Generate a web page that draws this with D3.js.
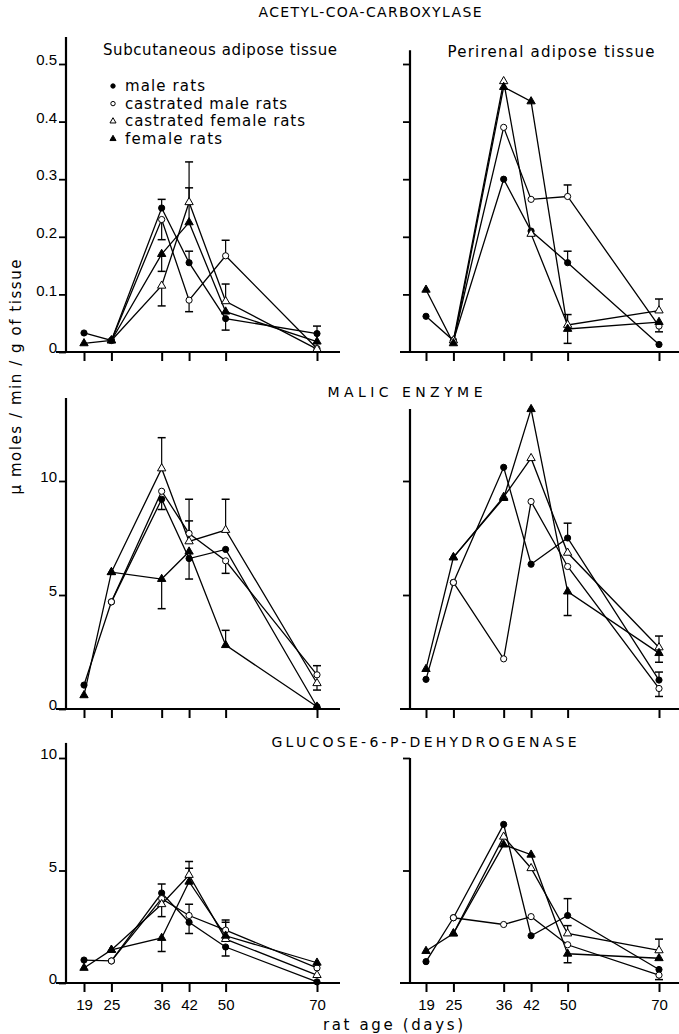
<!DOCTYPE html>
<html>
<head>
<meta charset="utf-8">
<script src="https://cdn.jsdelivr.net/npm/d3@7"></script>
<style>
  body { margin: 0; background: #fff; }
  svg { display: block; font-family: "DejaVu Sans", sans-serif; }
</style>
</head>
<body>
<svg id="chart" width="679" height="1034"></svg>
<script>
// rat age in days (x axis)
const ages = [19, 25, 36, 42, 50, 70];
const seriesLabels = ['male rats', 'castrated male rats', 'castrated female rats', 'female rats'];
const accTicks = [0, 0.1, 0.2, 0.3, 0.4, 0.5];
const enzTicks = [0, 5, 10];

// series order: male, castrated male, castrated female, female
// errors: signed length of the one-sided bar, 0 = none
const accSub = [
  [0.033, 0.02, 0.25, 0.155, 0.058, 0.032],
  [null, 0.02, 0.23, 0.09, 0.167, 0.006],
  [null, 0.02, 0.115, 0.26, 0.088, 0.005],
  [0.015, 0.02, 0.17, 0.225, 0.07, 0.018]
];
const accSubErr = [
  [0, 0, 0.015, 0.02, -0.02, 0.013],
  [0, 0, -0.035, -0.02, 0.027, 0],
  [0, 0, -0.035, 0.07, 0.03, 0],
  [0, 0, -0.03, 0.06, 0, 0]
];
const accPeri = [
  [0.062, 0.02, 0.30, 0.21, 0.155, 0.013],
  [null, 0.02, 0.39, 0.265, 0.27, 0.045],
  [null, 0.02, 0.47, 0.205, 0.047, 0.072],
  [0.108, 0.015, 0.46, 0.435, 0.04, 0.052]
];
const accPeriErr = [
  [0, 0, 0, 0, 0.02, 0],
  [0, 0, 0, 0, 0.02, -0.01],
  [0, 0, 0, 0, 0.018, 0.02],
  [0, 0, 0, 0, -0.025, 0]
];
const malicSub = [
  [1.05, 4.7, 9.2, 6.6, 7.0, 0.1],
  [null, 4.7, 9.55, 7.7, 6.5, 1.5],
  [null, 6.0, 10.55, 7.35, 7.85, 1.13],
  [0.6, 6.0, 5.7, 6.9, 2.8, 0.1]
];
const malicSubErr = [
  [0, 0, -0.45, -0.9, 0, 0],
  [0, 0, 0, 1.5, -0.55, 0.4],
  [0, 0, 1.35, 0.9, 1.35, -0.3],
  [0, 0, -1.3, 0, 0.65, 0]
];
const malicPeri = [
  [1.3, 5.55, 10.6, 6.35, 7.5, 1.27],
  [null, 5.55, 2.2, 9.1, 6.25, 0.9],
  [null, 6.65, 9.3, 11.0, 6.85, 2.7],
  [1.75, 6.65, 9.25, 13.15, 5.15, 2.45]
];
const malicPeriErr = [
  [0, 0, 0, 0, 0.65, 0.35],
  [0, 0, 0, 0, 0, -0.35],
  [0, 0, 0, 0, 0, 0.5],
  [0, 0, 0, 0, -1.05, -0.4]
];
const g6pdSub = [
  [1.02, 0.98, 4.0, 2.7, 1.6, 0.05],
  [null, 0.98, 3.75, 3.0, 2.35, 0.67],
  [null, 1.47, 3.5, 4.8, 1.95, 0.35],
  [0.67, 1.47, 2.0, 4.5, 2.1, 0.9]
];
const g6pdSubErr = [
  [0, 0, 0.4, -0.5, -0.4, 0],
  [0, 0, 0, 0.5, 0.45, 0],
  [0, 0, -0.55, 0.6, 0.75, 0],
  [0, 0, -0.6, 0.6, 0, 0]
];
const g6pdPeri = [
  [0.95, 2.9, 7.05, 2.1, 3.0, 0.6],
  [null, 2.9, 2.6, 2.95, 1.7, 0.35],
  [null, 2.2, 6.5, 5.1, 2.2, 1.45],
  [1.42, 2.2, 6.15, 5.7, 1.3, 1.1]
];
const g6pdPeriErr = [
  [0, 0, 0, 0, 0.75, 0],
  [0, 0, 0, 0, 0, -0.2],
  [0, 0, 0, 0, 0.35, 0.5],
  [0, 0, 0, 0, -0.4, 0]
];

const svg = d3.select('#chart');

const rows = [
  { y0: 352, y1: 64, max: 0.5, ticks: accTicks, fmt: (d) => (d === 0 ? '0' : d3.format('.1f')(d)),
    tops: [0.547, 0.524], title: 'ACETYL-COA-CARBOXYLASE', titleX: 370, titleY: 12, titleW: 223 },
  { y0: 709, y1: 481, max: 10, ticks: enzTicks, fmt: d3.format('d'),
    tops: [13.64, 13.16], title: 'MALIC  ENZYME', titleX: 405, titleY: 392, titleW: 155 },
  { y0: 983, y1: 758, max: 10, ticks: enzTicks, fmt: d3.format('d'),
    tops: [10.67, 10.0], title: 'GLUCOSE-6-P-DEHYDROGENASE', titleX: 424, titleY: 742, titleW: 305 }
];
const cols = [
  { x0: 84, x1: 317, axisX: 66, from: 56, to: 340 },
  { x0: 426, x1: 659, axisX: 410, from: 400, to: 679 }
];
const panelData = [
  [accSub, accSubErr], [accPeri, accPeriErr],
  [malicSub, malicSubErr], [malicPeri, malicPeriErr],
  [g6pdSub, g6pdSubErr], [g6pdPeri, g6pdPeriErr]
];

const triangle = d3.symbol().type(d3.symbolTriangle);

function drawMarker(sel, k, small) {
  if (k < 2) {
    sel.append('circle')
      .attr('r', small ? 2.2 : 3.1)
      .attr('fill', k === 0 ? '#000' : '#fff')
      .attr('stroke', '#000')
      .attr('stroke-width', 1);
  } else {
    sel.append('path')
      .attr('d', triangle.size(small ? 16 : 30)())
      .attr('fill', k === 3 ? '#000' : '#fff')
      .attr('stroke', '#000')
      .attr('stroke-width', 1);
  }
}

rows.forEach((row, r) => {
  svg.append('text')
    .attr('x', row.titleX)
    .attr('y', row.titleY)
    .attr('dy', '0.35em')
    .attr('text-anchor', 'middle')
    .attr('font-size', 14)
    .attr('textLength', row.titleW)
    .attr('lengthAdjust', 'spacing')
    .text(row.title);

  cols.forEach((col, c) => {
    const [values, errors] = panelData[r * 2 + c];
    const x = d3.scaleLinear().domain([19, 70]).range([col.x0, col.x1]);
    const y = d3.scaleLinear().domain([0, row.max]).range([row.y0, row.y1]);
    const g = svg.append('g');

    // y axis
    const yAxis = d3.axisLeft(y)
      .tickValues(c === 0 ? row.ticks : row.ticks.filter((d) => d > 0))
      .tickSize(7)
      .tickPadding(2)
      .tickFormat(c === 0 ? row.fmt : '');
    const ya = g.append('g')
      .attr('transform', `translate(${col.axisX},0)`)
      .call(yAxis);
    ya.select('.domain').remove();
    ya.selectAll('line').attr('stroke-width', 1.8);
    ya.selectAll('text')
      .attr('font-size', 15)
      .attr('dy', '0.05em');
    g.append('line')
      .attr('x1', col.axisX).attr('x2', col.axisX)
      .attr('y1', y(row.tops[c])).attr('y2', y(0))
      .attr('stroke', '#000').attr('stroke-width', 2.2);

    // x axis
    const xAxis = d3.axisBottom(x)
      .tickValues(ages)
      .tickSize(9)
      .tickPadding(7)
      .tickFormat(r === 2 ? d3.format('d') : '');
    const xa = g.append('g')
      .attr('transform', `translate(0,${y(0)})`)
      .call(xAxis);
    xa.select('.domain').remove();
    xa.selectAll('line').attr('stroke-width', 2);
    xa.selectAll('text').attr('font-size', 15);
    g.append('line')
      .attr('x1', col.from).attr('x2', col.to)
      .attr('y1', y(0)).attr('y2', y(0))
      .attr('stroke', '#000').attr('stroke-width', 2.2);

    // series lines
    const line = d3.line()
      .defined((d) => d != null)
      .x((d, i) => x(ages[i]))
      .y((d) => y(d));
    values.forEach((vals) => {
      g.append('path')
        .attr('d', line(vals))
        .attr('fill', 'none')
        .attr('stroke', '#000')
        .attr('stroke-width', 1.3);
    });

    // error bars
    values.forEach((vals, k) => {
      vals.forEach((v, i) => {
        const e = errors[k][i];
        if (v == null || !e) return;
        const px = x(ages[i]);
        g.append('line')
          .attr('x1', px).attr('x2', px)
          .attr('y1', y(v)).attr('y2', y(v + e))
          .attr('stroke', '#000').attr('stroke-width', 1.2);
        g.append('line')
          .attr('x1', px - 4).attr('x2', px + 4)
          .attr('y1', y(v + e)).attr('y2', y(v + e))
          .attr('stroke', '#000').attr('stroke-width', 1.5);
      });
    });

    // markers
    values.forEach((vals, k) => {
      vals.forEach((v, i) => {
        if (v == null) return;
        const m = g.append('g')
          .attr('transform', `translate(${x(ages[i])},${y(v)})`);
        drawMarker(m, k, false);
      });
    });
  });
});

// panel subtitles
svg.append('text')
  .attr('x', 220).attr('y', 50).attr('dy', '0.35em')
  .attr('text-anchor', 'middle').attr('font-size', 15)
  .attr('textLength', 234).attr('lengthAdjust', 'spacing')
  .text('Subcutaneous adipose tissue');
svg.append('text')
  .attr('x', 551).attr('y', 52).attr('dy', '0.35em')
  .attr('text-anchor', 'middle').attr('font-size', 15)
  .attr('textLength', 207).attr('lengthAdjust', 'spacing')
  .text('Perirenal adipose tissue');

// legend
const legendW = [80, 162, 180, 97];
seriesLabels.forEach((label, k) => {
  const ly = 86 + k * 17.6;
  const m = svg.append('g').attr('transform', `translate(113,${ly})`);
  drawMarker(m, k, true);
  svg.append('text')
    .attr('x', 125).attr('y', ly).attr('dy', '0.35em')
    .attr('font-size', 15)
    .attr('textLength', legendW[k]).attr('lengthAdjust', 'spacing')
    .text(label);
});

// axis titles
svg.append('text')
  .attr('transform', 'translate(16,377) rotate(-90)')
  .attr('dy', '0.35em')
  .attr('text-anchor', 'middle').attr('font-size', 15)
  .attr('textLength', 235).attr('lengthAdjust', 'spacing')
  .text('\u03bc moles / min / g of tissue');
svg.append('text')
  .attr('x', 393).attr('y', 1025).attr('dy', '0.35em')
  .attr('text-anchor', 'middle').attr('font-size', 15)
  .attr('textLength', 140).attr('lengthAdjust', 'spacing')
  .text('rat  age (days)');
</script>
</body>
</html>
